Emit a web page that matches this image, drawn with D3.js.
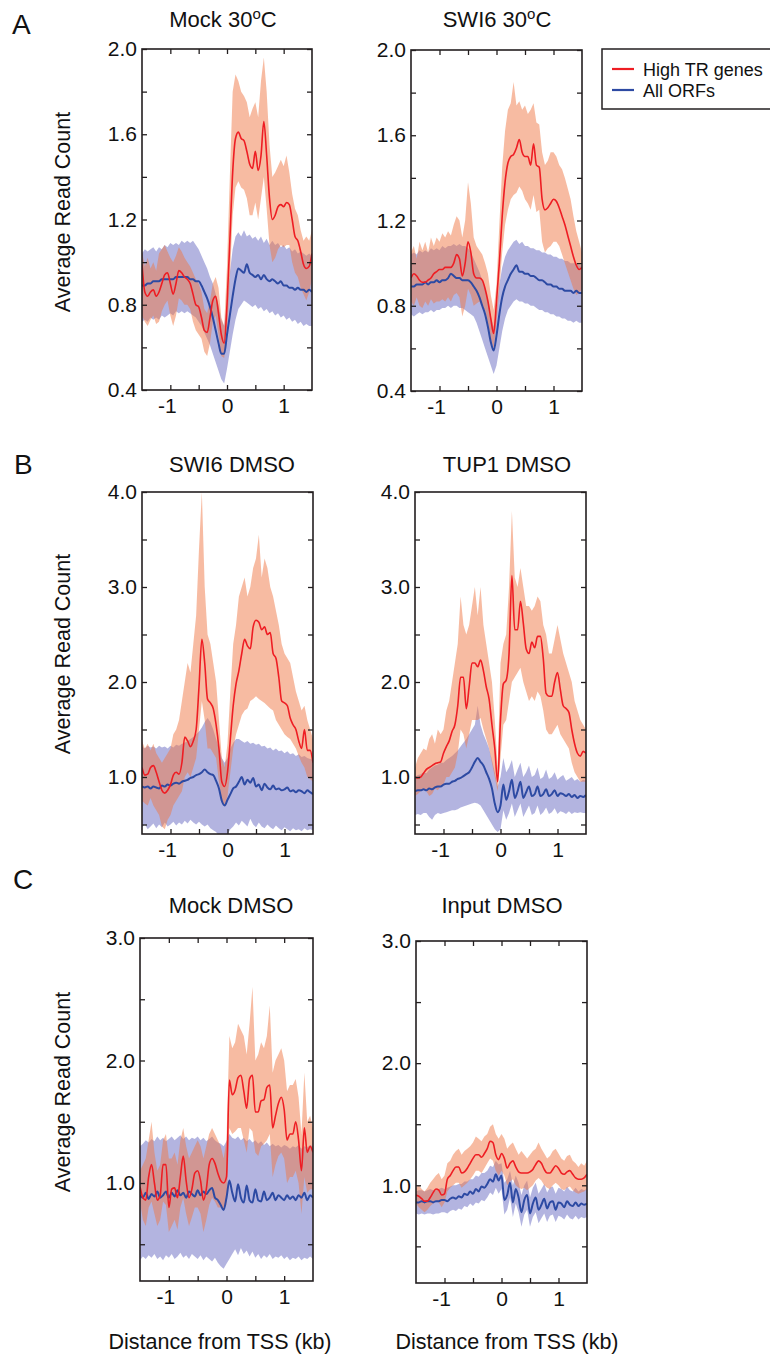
<!DOCTYPE html>
<html>
<head>
<meta charset="utf-8">
<script src="https://cdn.jsdelivr.net/npm/d3@7"></script>
<style>
body { margin: 0; background: #fff; }
svg { display: block; font-family: Arial, "Liberation Sans", Helvetica, sans-serif; }
</style>
</head>
<body>
<svg id="fig" width="770" height="1354"></svg>
<script>
// distance from TSS (kb), one sample every 50 bp
const tss = [-1.5,-1.45,-1.4,-1.35,-1.3,-1.25,-1.2,-1.15,-1.1,-1.05,
    -1.0,-0.95,-0.9,-0.85,-0.8,-0.75,-0.7,-0.65,-0.6,-0.55,
    -0.5,-0.45,-0.4,-0.35,-0.3,-0.25,-0.2,-0.15,-0.1,-0.05,
    0,0.05,0.1,0.15,0.2,0.25,0.3,0.35,0.4,0.45,
    0.5,0.55,0.6,0.65,0.7,0.75,0.8,0.85,0.9,0.95,
    1.0,1.05,1.1,1.15,1.2,1.25,1.3,1.35,1.4,1.45,1.5];

// A - Mock 30C
const mock30HighMean = [0.99,0.86,0.84,0.86,0.87,0.84,0.86,0.90,0.94,0.95, 0.90,0.85,0.90,0.96,0.95,0.93,0.92,0.90,0.85,0.80, 0.79,0.74,0.68,0.67,0.74,0.82,0.84,0.76,0.66,0.62, 0.80,1.10,1.42,1.58,1.61,1.58,1.57,1.52,1.46,1.44, 1.52,1.43,1.50,1.66,1.50,1.30,1.20,1.22,1.26,1.27, 1.26,1.28,1.27,1.20,1.12,1.10,1.05,0.99,0.97,0.98, 1.04];
const mock30HighLo = [0.75,0.72,0.70,0.73,0.75,0.71,0.72,0.77,0.80,0.82, 0.75,0.70,0.75,0.83,0.82,0.80,0.80,0.78,0.72,0.68, 0.66,0.64,0.58,0.56,0.62,0.72,0.75,0.66,0.56,0.55, 0.66,0.92,1.22,1.35,1.38,1.35,1.34,1.30,1.22,1.22, 1.28,1.20,1.30,1.40,1.25,1.08,1.00,1.02,1.06,1.08, 1.07,1.08,1.08,1.00,0.95,0.93,0.88,0.85,0.82,0.86, 0.92];
const mock30HighHi = [1.05,0.98,1.02,0.97,1.00,0.96,1.04,1.06,1.08,1.05, 1.02,1.00,1.03,1.07,1.05,1.02,1.00,0.98,0.95,0.92, 0.90,0.86,0.78,0.76,0.82,0.90,0.93,0.88,0.74,0.70, 0.98,1.40,1.80,1.88,1.85,1.80,1.78,1.75,1.68,1.72, 1.75,1.68,1.85,1.96,1.80,1.55,1.40,1.42,1.45,1.48, 1.45,1.50,1.42,1.32,1.25,1.22,1.15,1.10,1.12,1.10, 1.15];
const mock30AllMean = [0.89,0.89,0.90,0.90,0.91,0.91,0.91,0.92,0.92,0.92, 0.92,0.92,0.93,0.93,0.93,0.93,0.93,0.92,0.92,0.91, 0.91,0.89,0.86,0.83,0.79,0.74,0.68,0.62,0.57,0.57, 0.66,0.75,0.84,0.92,0.97,0.96,0.95,0.99,0.95,0.94, 0.93,0.94,0.92,0.94,0.92,0.91,0.92,0.91,0.90,0.91, 0.89,0.89,0.88,0.88,0.87,0.88,0.87,0.87,0.86,0.87, 0.86];
const mock30AllHi = [1.04,1.06,1.05,1.06,1.07,1.05,1.07,1.06,1.08,1.07, 1.09,1.08,1.09,1.08,1.10,1.09,1.10,1.09,1.10,1.08, 1.06,1.03,1.00,0.97,0.93,0.90,0.85,0.80,0.73,0.70, 0.80,0.95,1.06,1.12,1.14,1.12,1.15,1.12,1.13,1.11, 1.12,1.10,1.12,1.09,1.11,1.08,1.10,1.08,1.09,1.07, 1.08,1.06,1.07,1.05,1.06,1.04,1.05,1.04,1.03,1.04, 1.03];
const mock30AllLo = [0.72,0.73,0.72,0.74,0.73,0.74,0.73,0.75,0.74,0.75, 0.76,0.75,0.77,0.76,0.77,0.76,0.77,0.76,0.75,0.74, 0.72,0.70,0.67,0.64,0.61,0.57,0.53,0.49,0.45,0.43, 0.50,0.58,0.66,0.73,0.78,0.80,0.82,0.81,0.80,0.79, 0.80,0.78,0.79,0.77,0.78,0.76,0.77,0.75,0.76,0.74, 0.75,0.73,0.74,0.72,0.73,0.71,0.72,0.70,0.71,0.70, 0.70];

// A - SWI6 30C
const swi630HighMean = [0.93,0.95,0.94,0.92,0.91,0.91,0.92,0.93,0.95,0.96, 0.97,0.97,0.98,0.98,0.98,1.00,1.04,1.02,0.94,1.00, 1.10,1.05,0.95,0.93,0.93,0.92,0.88,0.82,0.74,0.67, 0.82,1.00,1.22,1.38,1.47,1.50,1.51,1.54,1.58,1.52, 1.50,1.50,1.46,1.56,1.46,1.45,1.30,1.25,1.26,1.28, 1.30,1.29,1.26,1.22,1.18,1.13,1.08,1.03,0.99,0.97, 0.98];
const swi630HighHi = [1.05,1.08,1.02,1.10,1.06,1.10,1.05,1.12,1.08,1.12, 1.10,1.14,1.12,1.15,1.13,1.18,1.22,1.20,1.12,1.20, 1.38,1.28,1.12,1.08,1.06,1.04,1.00,0.95,0.85,0.78, 0.90,1.18,1.45,1.62,1.72,1.75,1.85,1.74,1.76,1.72, 1.74,1.70,1.72,1.75,1.66,1.65,1.52,1.46,1.48,1.52, 1.52,1.50,1.46,1.44,1.40,1.35,1.30,1.22,1.15,1.10, 1.05];
const swi630HighLo = [0.82,0.80,0.84,0.80,0.79,0.82,0.80,0.83,0.81,0.82, 0.82,0.83,0.82,0.84,0.82,0.85,0.86,0.84,0.75,0.80, 0.88,0.85,0.80,0.81,0.82,0.80,0.78,0.72,0.65,0.60, 0.72,0.88,1.05,1.18,1.25,1.30,1.32,1.33,1.36,1.34, 1.30,1.28,1.25,1.32,1.24,1.25,1.10,1.05,1.07,1.08, 1.10,1.10,1.08,1.04,1.00,0.96,0.92,0.88,0.85,0.86, 0.88];
const swi630AllMean = [0.89,0.89,0.90,0.90,0.90,0.91,0.90,0.91,0.91,0.92, 0.91,0.92,0.92,0.93,0.95,0.94,0.93,0.93,0.92,0.92, 0.92,0.91,0.89,0.87,0.84,0.80,0.76,0.70,0.63,0.59, 0.66,0.76,0.84,0.89,0.92,0.95,0.97,0.99,0.96,0.96, 0.95,0.95,0.94,0.94,0.93,0.92,0.92,0.91,0.90,0.90, 0.89,0.89,0.88,0.88,0.87,0.87,0.87,0.86,0.87,0.86, 0.86];
const swi630AllHi = [1.04,1.05,1.04,1.06,1.05,1.06,1.05,1.07,1.06,1.07, 1.06,1.08,1.07,1.08,1.08,1.09,1.08,1.09,1.08,1.08, 1.07,1.05,1.02,0.99,0.96,0.92,0.88,0.82,0.75,0.70, 0.78,0.90,0.98,1.03,1.06,1.08,1.10,1.11,1.09,1.10, 1.08,1.08,1.07,1.07,1.06,1.06,1.05,1.05,1.04,1.04, 1.03,1.03,1.02,1.02,1.01,1.01,1.00,1.00,1.00,0.99, 0.99];
const swi630AllLo = [0.76,0.75,0.76,0.77,0.76,0.77,0.77,0.78,0.77,0.78, 0.78,0.79,0.79,0.80,0.79,0.80,0.80,0.79,0.79,0.78, 0.77,0.76,0.75,0.72,0.68,0.64,0.60,0.56,0.52,0.48, 0.52,0.60,0.68,0.74,0.78,0.80,0.82,0.83,0.82,0.82, 0.81,0.81,0.80,0.80,0.79,0.78,0.78,0.77,0.77,0.76, 0.76,0.75,0.75,0.74,0.74,0.73,0.73,0.72,0.73,0.72, 0.72];

// B - SWI6 DMSO
const swi6DmsoHighMean = [1.10,1.02,1.03,1.10,1.12,1.05,0.95,0.86,0.83,0.86, 0.92,1.02,1.05,1.03,1.15,1.42,1.38,1.32,1.38,1.50, 1.95,2.45,2.20,1.82,1.78,1.72,1.55,1.30,0.95,0.90, 1.05,1.40,1.75,1.98,2.12,2.30,2.45,2.38,2.35,2.58, 2.65,2.63,2.55,2.58,2.50,2.52,2.30,2.25,2.05,1.80, 1.78,1.75,1.62,1.55,1.50,1.38,1.30,1.50,1.28,1.28, 1.15];
const swi6DmsoHighHi = [1.38,1.30,1.35,1.28,1.35,1.25,1.20,1.15,1.20,1.25, 1.30,1.45,1.50,1.60,1.80,2.00,2.20,2.10,2.40,2.70, 3.40,4.00,3.00,2.50,2.40,2.20,2.00,1.60,1.20,1.10, 1.35,1.90,2.40,2.60,2.90,3.00,3.10,2.90,3.00,3.20, 3.30,3.55,3.10,3.30,3.20,3.00,2.90,2.75,2.60,2.40, 2.30,2.25,2.20,2.05,1.90,1.80,1.70,1.75,1.60,1.50, 1.40];
const swi6DmsoHighLo = [0.75,0.72,0.70,0.78,0.70,0.65,0.60,0.48,0.45,0.55, 0.60,0.70,0.75,0.80,0.85,1.00,1.05,1.00,1.10,1.20, 1.50,1.80,1.60,1.30,1.30,1.25,1.20,0.95,0.75,0.70, 0.80,1.05,1.30,1.45,1.55,1.65,1.70,1.72,1.80,1.82, 1.85,1.82,1.80,1.78,1.75,1.72,1.70,1.60,1.55,1.50, 1.45,1.42,1.40,1.35,1.30,1.22,1.15,1.10,1.00,0.98, 0.95];
const swi6DmsoAllMean = [0.90,0.89,0.90,0.88,0.90,0.89,0.88,0.91,0.90,0.92, 0.91,0.93,0.94,0.93,0.95,0.96,0.97,0.99,1.00,1.02, 1.03,1.05,1.08,1.05,1.03,1.02,0.96,0.88,0.75,0.70, 0.76,0.82,0.88,0.90,0.95,1.00,0.92,0.97,0.94,0.99, 0.90,0.92,0.86,0.93,0.89,0.87,0.91,0.87,0.88,0.86, 0.87,0.89,0.85,0.86,0.84,0.86,0.85,0.83,0.86,0.84, 0.82];
const swi6DmsoAllHi = [1.32,1.30,1.33,1.31,1.32,1.30,1.33,1.31,1.32,1.30, 1.33,1.31,1.34,1.33,1.35,1.36,1.38,1.40,1.42,1.45, 1.48,1.52,1.58,1.62,1.58,1.50,1.40,1.30,1.20,1.15, 1.20,1.30,1.36,1.40,1.40,1.38,1.36,1.38,1.35,1.36, 1.34,1.35,1.32,1.33,1.30,1.31,1.28,1.30,1.27,1.28, 1.25,1.27,1.24,1.25,1.22,1.24,1.21,1.22,1.20,1.19, 1.18];
const swi6DmsoAllLo = [0.47,0.50,0.45,0.48,0.51,0.46,0.50,0.47,0.52,0.48, 0.50,0.53,0.49,0.52,0.50,0.54,0.51,0.55,0.52,0.50, 0.53,0.50,0.48,0.50,0.46,0.44,0.42,0.38,0.34,0.35, 0.40,0.45,0.48,0.52,0.49,0.54,0.51,0.48,0.56,0.50, 0.47,0.52,0.48,0.46,0.50,0.47,0.45,0.49,0.46,0.44, 0.47,0.45,0.43,0.46,0.44,0.45,0.43,0.46,0.44,0.45, 0.44];

// B - TUP1 DMSO
const tup1DmsoHighMean = [1.00,0.99,1.00,1.04,1.08,1.10,1.12,1.14,1.15,1.16, 1.25,1.32,1.38,1.48,1.55,1.75,2.05,2.05,1.72,1.95, 2.20,2.20,2.16,2.23,2.12,1.95,1.82,1.55,1.30,0.95, 1.60,1.98,2.02,2.30,3.12,2.55,2.55,2.85,2.62,2.35, 2.30,2.42,2.36,2.48,2.48,2.25,1.88,1.85,1.85,2.00, 2.10,1.92,1.75,1.72,1.68,1.50,1.35,1.25,1.22,1.27, 1.25];
const tup1DmsoHighHi = [1.10,1.20,1.25,1.30,1.28,1.40,1.45,1.35,1.50,1.45, 1.50,1.70,1.80,2.00,2.20,2.40,2.90,2.60,2.50,2.60, 2.80,3.00,2.70,3.00,2.60,2.40,2.20,2.00,1.60,1.10, 2.20,2.40,2.50,3.00,3.80,3.10,3.00,3.20,3.00,2.80, 2.80,2.75,2.80,2.90,2.85,2.60,2.50,2.30,2.30,2.45, 2.60,2.45,2.30,2.20,2.10,2.00,1.80,1.70,1.60,1.55, 1.50];
const tup1DmsoHighLo = [0.80,0.82,0.85,0.88,0.85,0.80,0.82,0.88,0.86,0.90, 0.92,1.00,1.00,1.05,1.10,1.25,1.50,1.45,1.30,1.45, 1.60,1.60,1.60,1.62,1.50,1.40,1.30,1.15,1.00,0.85, 1.20,1.55,1.60,1.80,2.00,2.05,2.10,2.15,2.00,1.90, 1.80,1.85,1.80,1.90,1.85,1.70,1.50,1.45,1.45,1.50, 1.55,1.45,1.40,1.35,1.30,1.15,1.05,1.00,0.95,0.95, 0.95];
const tup1DmsoAllMean = [0.85,0.86,0.86,0.87,0.86,0.88,0.87,0.89,0.90,0.90, 0.92,0.93,0.93,0.95,0.96,0.98,0.99,1.01,1.03,1.05, 1.10,1.16,1.20,1.16,1.12,1.05,0.98,0.88,0.72,0.63, 0.70,0.92,0.76,0.85,0.97,0.78,0.85,0.95,0.78,0.84, 0.90,0.80,0.82,0.90,0.80,0.82,0.87,0.80,0.82,0.86, 0.80,0.83,0.82,0.80,0.82,0.79,0.81,0.78,0.80,0.79, 0.81];
const tup1DmsoAllHi = [1.00,1.02,1.03,1.05,1.04,1.08,1.10,1.12,1.13,1.15, 1.15,1.18,1.20,1.22,1.25,1.28,1.32,1.36,1.40,1.45, 1.50,1.55,1.75,1.55,1.45,1.38,1.30,1.18,1.05,0.90, 1.00,1.20,1.05,1.10,1.18,1.00,1.08,1.15,1.00,1.05, 1.12,1.00,1.02,1.10,0.98,1.00,1.08,0.98,1.00,1.05, 0.97,1.00,1.02,0.96,0.98,1.00,0.96,0.98,0.95,0.97, 0.96];
const tup1DmsoAllLo = [0.60,0.61,0.60,0.62,0.62,0.58,0.55,0.60,0.62,0.61, 0.62,0.63,0.64,0.65,0.65,0.66,0.68,0.69,0.70,0.71, 0.72,0.73,0.72,0.70,0.65,0.60,0.55,0.50,0.45,0.42, 0.45,0.65,0.55,0.62,0.72,0.58,0.65,0.72,0.58,0.64, 0.70,0.60,0.62,0.70,0.60,0.63,0.68,0.61,0.63,0.67, 0.61,0.64,0.63,0.61,0.64,0.61,0.63,0.62,0.63,0.62, 0.62];

// C - Mock DMSO
const mockDmsoHighMean = [0.97,0.88,0.86,1.05,1.15,1.00,0.86,0.90,1.15,1.15, 0.80,0.95,0.96,0.88,1.05,1.22,1.02,0.88,0.95,1.08, 1.10,1.02,0.86,0.95,1.15,1.20,1.16,1.08,1.02,1.00, 1.05,1.84,1.72,1.76,1.86,1.88,1.75,1.61,1.85,1.88, 1.58,1.58,1.67,1.68,1.78,1.80,1.45,1.55,1.65,1.70, 1.60,1.35,1.40,1.40,1.50,1.35,1.10,1.45,1.25,1.30, 1.25];
const mockDmsoHighHi = [1.10,1.15,1.20,1.35,1.50,1.25,1.10,1.15,1.35,1.40, 1.20,1.20,1.25,1.15,1.35,1.45,1.30,1.20,1.25,1.30, 1.35,1.30,1.20,1.30,1.40,1.45,1.40,1.35,1.30,1.20, 1.35,2.20,2.10,2.15,2.30,2.25,2.20,2.05,2.30,2.60, 2.00,2.05,2.15,2.10,2.20,2.45,1.90,2.00,2.05,2.10, 2.00,1.75,1.80,1.80,1.85,1.70,1.40,1.90,1.50,1.55, 1.45];
const mockDmsoHighLo = [0.85,0.70,0.65,0.80,0.85,0.75,0.65,0.70,0.85,0.82, 0.60,0.65,0.70,0.62,0.80,0.88,0.75,0.65,0.72,0.80, 0.80,0.75,0.60,0.70,0.82,0.88,0.85,0.80,0.80,0.78, 0.82,1.45,1.40,1.42,1.45,1.45,1.35,1.25,1.45,1.42, 1.25,1.22,1.30,1.32,1.35,1.40,1.05,1.15,1.22,1.25, 1.20,1.00,1.05,1.05,1.10,1.00,0.75,1.05,0.92,0.95, 0.95];
const mockDmsoAllMean = [0.90,0.88,0.92,0.87,0.91,0.89,0.93,0.88,0.90,0.93, 0.88,0.92,0.89,0.94,0.90,0.92,0.88,0.93,0.91,0.89, 0.94,0.90,0.93,0.91,0.94,0.96,0.88,0.86,0.82,0.78, 0.88,1.02,0.92,0.85,0.99,0.88,0.84,0.98,0.86,0.84, 0.95,0.86,0.85,0.93,0.86,0.88,0.92,0.86,0.90,0.88, 0.86,0.90,0.87,0.89,0.86,0.90,0.88,0.92,0.86,0.90, 0.88];
const mockDmsoAllHi = [1.30,1.32,1.35,1.33,1.36,1.34,1.38,1.35,1.37,1.34, 1.36,1.38,1.35,1.37,1.39,1.36,1.38,1.35,1.37,1.36, 1.38,1.35,1.37,1.34,1.36,1.38,1.35,1.33,1.32,1.30, 1.34,1.40,1.37,1.36,1.38,1.35,1.37,1.34,1.36,1.33, 1.35,1.32,1.34,1.31,1.33,1.30,1.32,1.30,1.31,1.29, 1.31,1.30,1.28,1.30,1.29,1.31,1.28,1.30,1.29,1.31, 1.30];
const mockDmsoAllLo = [0.37,0.40,0.38,0.41,0.39,0.42,0.38,0.40,0.37,0.41, 0.39,0.42,0.38,0.40,0.43,0.39,0.41,0.38,0.42,0.40, 0.38,0.41,0.37,0.40,0.38,0.36,0.39,0.35,0.32,0.30, 0.34,0.38,0.42,0.46,0.41,0.47,0.42,0.45,0.40,0.44, 0.39,0.42,0.38,0.41,0.39,0.42,0.38,0.40,0.39,0.41, 0.38,0.40,0.37,0.39,0.38,0.40,0.37,0.39,0.38,0.40, 0.38];

// C - Input DMSO
const inputDmsoHighMean = [0.92,0.91,0.89,0.87,0.87,0.90,0.94,0.97,0.96,0.92, 0.93,1.05,1.08,1.12,1.15,1.15,1.10,1.11,1.14,1.18, 1.22,1.25,1.25,1.23,1.26,1.30,1.36,1.35,1.25,1.21, 1.26,1.22,1.14,1.18,1.20,1.15,1.11,1.10,1.10,1.10, 1.11,1.13,1.17,1.20,1.18,1.13,1.10,1.10,1.13,1.16, 1.14,1.10,1.09,1.11,1.12,1.09,1.06,1.05,1.05,1.06, 1.09];
const inputDmsoHighHi = [0.98,1.00,0.97,0.95,0.98,1.02,1.05,1.08,1.10,1.05, 1.08,1.18,1.20,1.25,1.28,1.30,1.25,1.28,1.30,1.32, 1.35,1.40,1.38,1.36,1.40,1.42,1.48,1.50,1.42,1.38, 1.42,1.38,1.30,1.33,1.35,1.30,1.25,1.28,1.25,1.22, 1.25,1.28,1.30,1.35,1.30,1.26,1.22,1.24,1.28,1.30, 1.26,1.22,1.20,1.24,1.25,1.20,1.18,1.15,1.18,1.16, 1.20];
const inputDmsoHighLo = [0.85,0.82,0.80,0.78,0.80,0.83,0.85,0.88,0.86,0.82, 0.86,0.95,0.98,1.00,1.02,1.02,0.98,1.00,1.02,1.05, 1.08,1.12,1.12,1.10,1.14,1.18,1.22,1.20,1.12,1.08, 1.12,1.08,1.00,1.03,1.05,1.00,0.98,0.97,0.98,0.96, 0.98,1.00,1.04,1.06,1.04,1.00,0.98,0.97,1.00,1.02, 1.00,0.97,0.96,0.98,0.99,0.96,0.94,0.93,0.94,0.95, 0.97];
const inputDmsoAllMean = [0.86,0.86,0.87,0.86,0.87,0.87,0.86,0.87,0.87,0.88, 0.88,0.87,0.89,0.90,0.89,0.91,0.90,0.93,0.92,0.95, 0.93,0.97,0.95,0.99,0.98,1.01,1.05,1.03,1.09,1.04, 1.08,0.88,0.92,1.02,0.86,0.97,0.90,0.78,0.88,0.92, 0.77,0.85,0.90,0.80,0.84,0.89,0.81,0.86,0.87,0.80, 0.86,0.85,0.82,0.87,0.84,0.83,0.86,0.83,0.85,0.84, 0.85];
const inputDmsoAllHi = [0.95,0.96,0.96,0.95,0.96,0.97,0.96,0.96,0.97,0.98, 0.97,0.98,0.99,1.00,1.00,1.01,1.01,1.03,1.03,1.05, 1.05,1.08,1.07,1.10,1.10,1.12,1.16,1.15,1.20,1.17, 1.18,1.02,1.05,1.12,1.00,1.08,1.02,0.92,1.00,1.04, 0.90,0.98,1.02,0.93,0.97,1.01,0.94,0.98,0.99,0.93, 0.98,0.97,0.95,0.99,0.96,0.95,0.98,0.95,0.97,0.96, 0.97];
const inputDmsoAllLo = [0.77,0.76,0.77,0.76,0.77,0.77,0.76,0.77,0.77,0.78, 0.78,0.77,0.79,0.80,0.79,0.81,0.80,0.83,0.82,0.85, 0.83,0.86,0.85,0.88,0.87,0.90,0.94,0.92,0.98,0.93, 0.97,0.76,0.80,0.90,0.74,0.85,0.78,0.66,0.76,0.80, 0.66,0.74,0.78,0.69,0.73,0.77,0.70,0.75,0.76,0.70, 0.75,0.74,0.72,0.76,0.73,0.72,0.75,0.72,0.74,0.73, 0.74];

// axes
const xTicks = [-1, -0.5, 0, 0.5, 1];
const xLabels = [-1, 0, 1];
const yTicksA = [0.4, 0.6, 0.8, 1.0, 1.2, 1.4, 1.6, 1.8, 2.0];
const yLabelsA = [0.4, 0.8, 1.2, 1.6, 2.0];
const yTicksB = [0.5, 1.0, 1.5, 2.0, 2.5, 3.0, 3.5, 4.0];
const yLabelsB = [1.0, 2.0, 3.0, 4.0];
const yTicksC = [0.5, 1.0, 1.5, 2.0, 2.5, 3.0];
const yLabelsC = [1.0, 2.0, 3.0];

const seriesNames = ["High TR genes", "All ORFs"];

const RED_LINE = "#ee1d23",
    BLUE_LINE = "#2d4aa3",
    RED_BAND = "rgb(240,120,70)",
    BLUE_BAND = "rgb(110,112,196)";

const panels = [
    {title: "Mock 30", sup: "o", tail: "C", x: 142, y: 49, w: 170, h: 341, titleX: 223, titleY: 27,
        yDomain: [0.4, 2.0], yTicks: yTicksA, yLabels: yLabelsA, top: true,
        high: [mock30HighMean, mock30HighLo, mock30HighHi], all: [mock30AllMean, mock30AllLo, mock30AllHi]},
    {title: "SWI6 30", sup: "o", tail: "C", x: 411, y: 50, w: 171, h: 341, titleX: 497, titleY: 27,
        yDomain: [0.4, 2.0], yTicks: yTicksA, yLabels: yLabelsA, top: true,
        high: [swi630HighMean, swi630HighLo, swi630HighHi], all: [swi630AllMean, swi630AllLo, swi630AllHi]},
    {title: "SWI6 DMSO", x: 142, y: 492, w: 171, h: 342, titleX: 232, titleY: 472,
        yDomain: [0.4, 4.0], yTicks: yTicksB, yLabels: yLabelsB, top: false,
        high: [swi6DmsoHighMean, swi6DmsoHighLo, swi6DmsoHighHi], all: [swi6DmsoAllMean, swi6DmsoAllLo, swi6DmsoAllHi]},
    {title: "TUP1 DMSO", x: 415, y: 492, w: 171, h: 342, titleX: 507, titleY: 472,
        yDomain: [0.4, 4.0], yTicks: yTicksB, yLabels: yLabelsB, top: false,
        high: [tup1DmsoHighMean, tup1DmsoHighLo, tup1DmsoHighHi], all: [tup1DmsoAllMean, tup1DmsoAllLo, tup1DmsoAllHi]},
    {title: "Mock DMSO", x: 140, y: 938, w: 173, h: 343, titleX: 231, titleY: 913,
        yDomain: [0.2, 3.0], yTicks: yTicksC, yLabels: yLabelsC, top: true,
        high: [mockDmsoHighMean, mockDmsoHighLo, mockDmsoHighHi], all: [mockDmsoAllMean, mockDmsoAllLo, mockDmsoAllHi]},
    {title: "Input DMSO", x: 416, y: 941, w: 171, h: 342, titleX: 502, titleY: 913,
        yDomain: [0.2, 3.0], yTicks: yTicksC, yLabels: yLabelsC, top: true,
        high: [inputDmsoHighMean, inputDmsoHighLo, inputDmsoHighHi], all: [inputDmsoAllMean, inputDmsoAllLo, inputDmsoAllHi]}
];

const svg = d3.select("#fig");

panels.forEach(function (p, i) {
    const x = d3.scaleLinear().domain([-1.5, 1.5]).range([0, p.w]);
    const y = d3.scaleLinear().domain(p.yDomain).range([p.h, 0]);
    const g = svg.append("g").attr("transform", "translate(" + p.x + "," + p.y + ")");

    g.append("clipPath").attr("id", "clip" + i)
        .append("rect").attr("width", p.w).attr("height", p.h);

    const plot = g.append("g").attr("clip-path", "url(#clip" + i + ")");

    const band = function (s) {
        return d3.area()
            .x((d, k) => x(tss[k]))
            .y0((d, k) => y(s[1][k]))
            .y1((d, k) => y(s[2][k]))(tss);
    };
    const line = function (s) {
        return d3.line()
            .curve(d3.curveMonotoneX)
            .x((d, k) => x(tss[k]))
            .y((d, k) => y(s[0][k]))(tss);
    };

    plot.append("path").attr("d", band(p.all))
        .attr("fill", BLUE_BAND).attr("fill-opacity", 0.52);
    plot.append("path").attr("d", band(p.high))
        .attr("fill", RED_BAND).attr("fill-opacity", 0.5);
    plot.append("path").attr("d", line(p.all))
        .attr("fill", "none").attr("stroke", BLUE_LINE).attr("stroke-width", 2);
    plot.append("path").attr("d", line(p.high))
        .attr("fill", "none").attr("stroke", RED_LINE).attr("stroke-width", 1.6);

    // axes, ticks pointing inward
    const fmtY = d => p.yLabels.some(v => Math.abs(v - d) < 1e-9) ? d.toFixed(1) : "";
    const fmtX = d => xLabels.indexOf(d) >= 0 ? String(d) : "";

    const left = g.append("g").call(d3.axisLeft(y).tickValues(p.yTicks).tickSize(-5).tickPadding(5).tickFormat(fmtY));
    const right = g.append("g").attr("transform", "translate(" + p.w + ",0)")
        .call(d3.axisRight(y).tickValues(p.yTicks).tickSize(-5).tickFormat(""));
    const bottom = g.append("g").attr("transform", "translate(0," + p.h + ")")
        .call(d3.axisBottom(x).tickValues(xTicks).tickSize(-5).tickPadding(8).tickFormat(fmtX));
    const axes = [left, right, bottom];
    if (p.top) {
        axes.push(g.append("g").call(d3.axisTop(x).tickValues(xTicks).tickSize(-5).tickFormat("")));
    }
    axes.forEach(function (a) {
        a.select(".domain").remove();
        a.selectAll("line").attr("stroke", "#231f20").attr("stroke-width", 1.3);
        a.attr("font-family", null).attr("font-size", 21);
        a.selectAll("text").attr("fill", "#111");
    });
    bottom.selectAll("text").attr("text-anchor", "end").attr("dx", "0.28em");

    g.append("rect").attr("width", p.w).attr("height", p.h)
        .attr("fill", "none").attr("stroke", "#231f20").attr("stroke-width", 1.6);

    const t = svg.append("text")
        .attr("x", p.titleX).attr("y", p.titleY)
        .attr("text-anchor", "middle").attr("font-size", 22).attr("fill", "#111")
        .text(p.title);
    if (p.sup) {
        t.append("tspan").attr("dy", -8).attr("font-size", 15).text(p.sup);
        t.append("tspan").attr("dy", 8).text(p.tail);
    }
});

// row letters and y titles
const rows = [
    {letter: "A", lx: 12, ly: 34, cy: 212},
    {letter: "B", lx: 14, ly: 474, cy: 654},
    {letter: "C", lx: 13, ly: 889, cy: 1092}
];
rows.forEach(function (r) {
    svg.append("text").attr("x", r.lx).attr("y", r.ly)
        .attr("font-size", 28).attr("fill", "#111").text(r.letter);
    svg.append("text")
        .attr("transform", "translate(70," + r.cy + ") rotate(-90)")
        .attr("text-anchor", "middle").attr("font-size", 21.5).attr("fill", "#111")
        .text("Average Read Count");
});

[220, 507].forEach(function (cx) {
    svg.append("text").attr("x", cx).attr("y", 1349)
        .attr("text-anchor", "middle").attr("font-size", 21.5).attr("fill", "#111")
        .text("Distance from TSS (kb)");
});

// legend
const legend = svg.append("g").attr("transform", "translate(602,49)");
legend.append("rect").attr("width", 200).attr("height", 60)
    .attr("fill", "#fff").attr("stroke", "#231f20").attr("stroke-width", 1.5);
[RED_LINE, BLUE_LINE].forEach(function (c, k) {
    legend.append("line").attr("x1", 10).attr("x2", 32)
        .attr("y1", 20 + k * 21).attr("y2", 20 + k * 21)
        .attr("stroke", c).attr("stroke-width", 2.2);
    legend.append("text").attr("x", 41).attr("y", 26.5 + k * 21)
        .attr("font-size", 18).attr("fill", "#111").text(seriesNames[k]);
});
</script>
</body>
</html>
